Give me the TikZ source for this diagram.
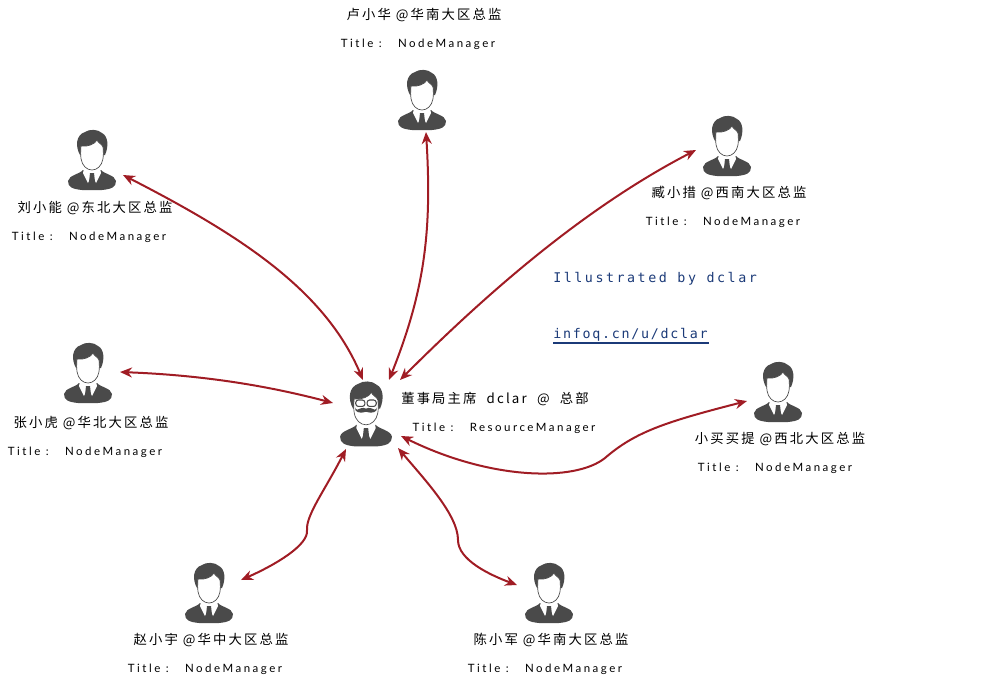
\documentclass[tikz,border=0pt]{standalone}
\usepackage{fontspec}
\usetikzlibrary{arrows.meta}
\newfontfamily\cjkf[LetterSpace=16]{Noto Sans CJK SC}
\newfontfamily\latf[LetterSpace=22]{Lato}
\newfontfamily\sigf[LetterSpace=19]{DejaVu Sans Mono}
\newfontfamily\sigg[LetterSpace=13]{DejaVu Sans Mono}
\definecolor{figgray}{HTML}{4A4A4A}
\definecolor{arrowred}{HTML}{A01C24}
\definecolor{linkblue}{HTML}{1B3A78}
\tikzset{
  person/.pic={
    \fill[figgray] (-9,10) .. controls (-12,14) and (-23,15) .. (-24,21) .. controls (-24,27) and (-20,29) .. (-10,30) -- (10,30) .. controls (20,29) and (24,27) .. (24,21) .. controls (23,15) and (12,14) .. (9,10) -- cycle;
    \fill[white] (-8,8) -- (8,8) -- (9,13) -- (4,23) -- (0,14) -- (-4,23) -- (-9,13) -- cycle;
    \fill[figgray] (-2,13) -- (2,13) -- (3,22) -- (0,27) -- (-3,22) -- cycle;
    \fill[figgray] (-12,-5) .. controls (-17,-14) and (-16,-25) .. (-7,-28) .. controls (-3,-31) and (6,-31) .. (10,-27) .. controls (16,-24) and (17,-14) .. (13,-5) -- cycle;
    \filldraw[fill=white,draw=figgray,line width=.5pt] (-11,-14) .. controls (-4,-13) and (3,-16) .. (5,-20) .. controls (6,-17) and (10,-16) .. (11,-13) .. controls (12,-3) and (11,3) .. (7,7) .. controls (3,11) and (-3,11) .. (-7,7) .. controls (-11,3) and (-12,-3) .. (-11,-14) -- cycle;
  },
  boss/.pic={
    \pic[scale=1.08] {person};
    \filldraw[scale=1.08,fill=white,draw=figgray,line width=.8pt,rounded corners=2pt] (-9.5,-13) rectangle (-1,-7) (1,-13) rectangle (9.5,-7);
    \fill[scale=1.08,figgray] (0,-5) .. controls (-3,-6.5) and (-6,-5) .. (-8,-4) .. controls (-9,-4) and (-10,-5) .. (-10,-6) .. controls (-11,-2) and (-6,0) .. (0,-2) .. controls (6,0) and (11,-2) .. (10,-6) .. controls (10,-5) and (9,-4) .. (8,-4) .. controls (6,-5) and (3,-6.5) .. (0,-5) -- cycle;
  },
  figbox/.style={inner sep=0pt,minimum width=36pt,minimum height=46pt},
  whotxt/.style={inner sep=0pt,yshift=-.8pt,font=\cjkf\fontsize{10pt}{12pt}\selectfont,text=black},
  roletxt/.style={inner sep=0pt,yshift=-1.2pt,font=\latf\fontsize{8.6pt}{10pt}\selectfont,text=black},
  sigtxt/.style={inner sep=0pt,anchor=west,yshift=-1pt,font=\sigf\fontsize{10pt}{13pt}\selectfont,text=linkblue},
  sigtxtb/.style={sigtxt,font=\sigg\fontsize{10pt}{13pt}\selectfont},
  link/.style={draw=arrowred,line width=1.5pt,{Stealth[length=9pt,width=7.5pt]}-{Stealth[length=9pt,width=7.5pt]}}
}
\begin{document}
\begin{tikzpicture}[x=.75pt,y=-.75pt]
\useasboundingbox (0,0) rectangle (984,683);
% figures
\foreach \n/\x/\y in {top/422/100,nw/92/160,ne/727/146,w/88/373,e/778/392,sw/209/593,se/549/593}{
  \node[figbox] (\n) at (\x,\y) {};
  \pic at (\n) {person};
}
\node[figbox] (ceo) at (366,414) {};
\pic at (ceo) {boss};
% labels
\node[whotxt] (n1) at (424,14) {卢小华 @华南大区总监};
\node[roletxt] (t1) at (418,43) {Title :\ \ \ NodeManager};
\node[whotxt] (n2) at (95,207) {刘小能 @东北大区总监};
\node[roletxt] (t2) at (89,236) {Title :\ \ \ NodeManager};
\node[whotxt] (n3) at (729,192) {臧小措 @西南大区总监};
\node[roletxt] (t3) at (723,221) {Title :\ \ \ NodeManager};
\node[whotxt] (n4) at (91,422) {张小虎 @华北大区总监};
\node[roletxt] (t4) at (85,451) {Title :\ \ \ NodeManager};
\node[whotxt] (n5) at (780,438) {小买买提 @西北大区总监};
\node[roletxt] (t5) at (775,467) {Title :\ \ \ NodeManager};
\node[whotxt] (n6) at (211,639) {赵小宇 @华中大区总监};
\node[roletxt] (t6) at (205,668) {Title :\ \ \ NodeManager};
\node[whotxt] (n7) at (551,639) {陈小军 @华南大区总监};
\node[roletxt] (t7) at (545,668) {Title :\ \ \ NodeManager};
\node[whotxt] (n8) at (495,398) {董事局主席 \ dclar \ @ \ 总部};
\node[roletxt] (t8) at (504,427) {Title :\ \ \ ResourceManager};
\node[sigtxt] (s1) at (553,277) {Illustrated by dclar};
\node[sigtxtb] (s2) at (553,333) {infoq.cn/u/dclar};
\coordinate (ula) at (553,343);
\coordinate (ulb) at (709,343);
\draw[linkblue,line width=1.5pt] (ula) -- (ulb);
% connector ends
\coordinate (a1) at (123,175); \coordinate (b1) at (363,380);
\coordinate (a2) at (426,132); \coordinate (b2) at (389,380);
\coordinate (a3) at (696,150); \coordinate (b3) at (400,380);
\coordinate (a4) at (120,372); \coordinate (b4) at (333,403);
\coordinate (a5) at (747,401); \coordinate (b5) at (401,436);
\coordinate (a6) at (241,580); \coordinate (b6) at (346,449);
\coordinate (a7) at (517,585); \coordinate (b7) at (398,448);
\draw[link] (a1) .. controls (240,235) and (325,290) .. (b1);
\draw[link] (a2) .. controls (432,230) and (425,290) .. (b2);
\draw[link] (a3) .. controls (590,205) and (495,285) .. (b3);
\draw[link] (a4) .. controls (200,375) and (265,385) .. (b4);
\draw[link] (a5) .. controls (665,422) and (635,432) .. (605,458) .. controls (575,482) and (490,480) .. (b5);
\draw[link] (a6) .. controls (275,565) and (309,545) .. (307,530) .. controls (306,515) and (325,490) .. (b6);
\draw[link] (a7) .. controls (490,575) and (458,560) .. (458,540) .. controls (458,515) and (425,480) .. (b7);
\end{tikzpicture}
\end{document}
